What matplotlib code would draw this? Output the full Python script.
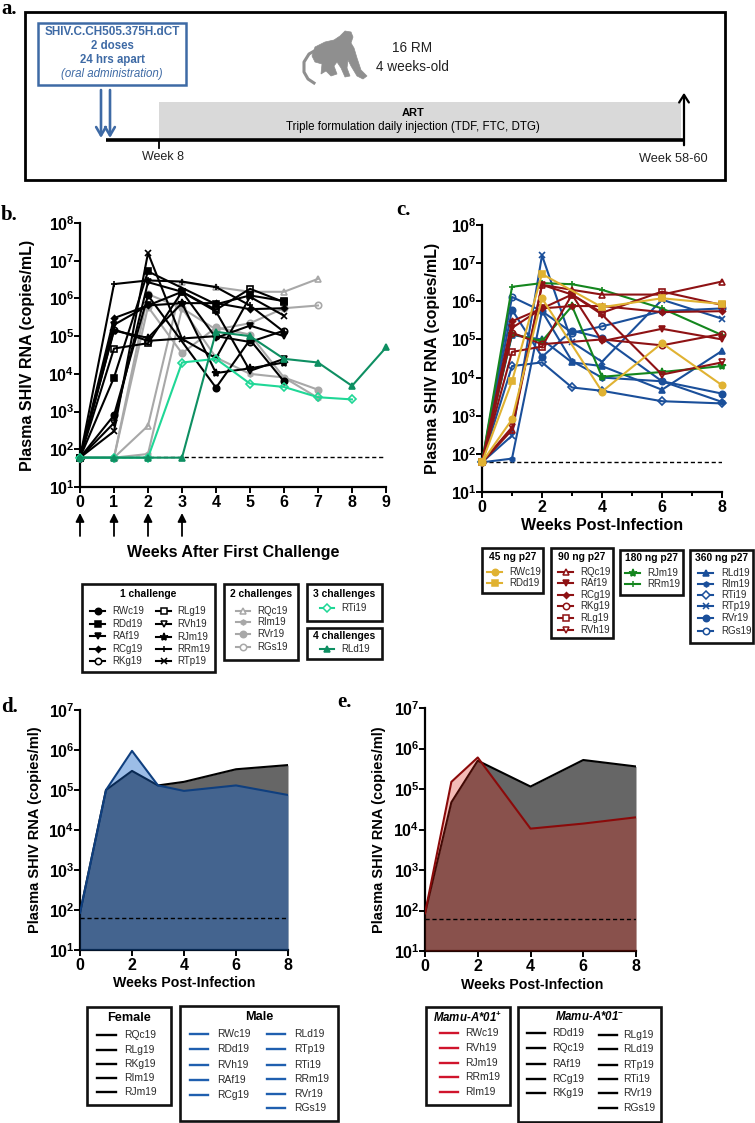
#!/usr/bin/env python3
"""Infant macaque SHIV challenge figure: study design, viral loads per animal and group means."""

import math

import matplotlib
matplotlib.use('Agg')
import matplotlib.pyplot as plt
import matplotlib.patches as patches
from matplotlib.ticker import FixedLocator, FuncFormatter, NullLocator

plt.rcParams['font.family'] = ['Liberation Sans', 'DejaVu Sans']
plt.rcParams['mathtext.fontset'] = 'custom'
plt.rcParams['mathtext.bf'] = 'Liberation Sans:bold'
plt.rcParams['mathtext.rm'] = 'Liberation Sans'

W, H = 755, 1123
LOD = 62

# viral load per animal at weeks 0, 1, 2, 3, 4, 6, 8 post-infection (None = no sample)
weeks_pi = [0, 1, 2, 3, 4, 6, 8]
RWc19 = [60, 8e2, 1.2e6, None, 4.3e3, 8e4, 6.3e3]
RDd19 = [60, 8e3, 5.2e6, None, 7e5, 1.2e6, 8.5e5]
RAf19 = [60, 2e5, 6.5e5, 1.5e6, 9e4, 1.9e5, 1e5]
RCg19 = [60, 3e5, 6.5e5, 7.5e5, 7.5e5, 5.2e5, 5.5e5]
RKg19 = [60, 1.5e5, 7.5e4, None, 1e5, 7e4, 1.4e5]
RLg19 = [60, 4.7e4, 6.5e4, 1.5e6, 5e5, 1.8e6, 8e5]
RVh19 = [60, 5e2, 2.7e6, 1.5e6, 4.5e5, 1.2e4, 2.5e4]
RJm19 = [60, 1.4e5, 9e4, 7.5e5, 1.05e4, 1.4e4, 2e4]
RRm19 = [60, 2.4e6, 3e6, 2.8e6, 2e6, 6.5e5, 1.3e5]
RTp19 = [60, 3e2, 1.6e7, 8.5e4, 2.6e4, 1.1e6, 3.5e5]
RQc19 = [60, 4.2e2, 2.7e6, 2e6, 1.5e6, 1.5e6, 3.3e6]
RIm19 = [60, 7.5e1, 5.5e5, 2.7e4, 1e4, 8e3, 2.3e3]
RVr19 = [60, 6e5, 3.5e4, 1.7e5, 1.1e5, 8e3, 3.8e3]
RGs19 = [60, 1.3e6, 5.5e5, 1.5e5, 2.2e5, 5.5e5, 6.5e5]
RTi19 = [60, 2e4, 2.5e4, 5.5e3, 4.5e3, 2.4e3, 2.1e3]
RLd19 = [60, 1.3e5, 1e5, 2.5e4, 2e4, 4.8e3, 5e4]

# group means, panels d and e
weeks_d = [0, 1, 2, 3, 4, 6, 8]
female_mean = [85, 1e5, 3e5, 1.3e5, 1.6e5, 3.3e5, 4.2e5]
male_mean = [85, 1e5, 9.5e5, 1.3e5, 9.5e4, 1.3e5, 7.5e4]
weeks_e = [0, 1, 2, 4, 6, 8]
mamu_neg_mean = [85, 4.7e4, 5e5, 1.15e5, 5.2e5, 3.6e5]
mamu_pos_mean = [85, 1.5e5, 6e5, 1.05e4, 1.4e4, 2e4]

series = {
    'RWc19': RWc19, 'RDd19': RDd19, 'RAf19': RAf19, 'RCg19': RCg19, 'RKg19': RKg19,
    'RLg19': RLg19, 'RVh19': RVh19, 'RJm19': RJm19, 'RRm19': RRm19, 'RTp19': RTp19,
    'RQc19': RQc19, 'RIm19': RIm19, 'RVr19': RVr19, 'RGs19': RGs19, 'RTi19': RTi19,
    'RLd19': RLd19,
}

# marker, open?
markers = {
    'RWc19': ('o', False), 'RDd19': ('s', False), 'RAf19': ('v', False), 'RCg19': ('D', False),
    'RKg19': ('o', True), 'RLg19': ('s', True), 'RVh19': ('v', True), 'RJm19': ('*', False),
    'RRm19': ('+', False), 'RTp19': ('x', False), 'RQc19': ('^', True), 'RIm19': ('h', False),
    'RVr19': ('o', False), 'RGs19': ('o', True), 'RTi19': ('D', True), 'RLd19': ('^', False),
}
small_marker = {'RCg19': 3, 'RIm19': 3.6, 'RTi19': 3.6}

GREY = '#A8A8A8'
MINT = '#1FD796'
TEAL = '#0E8F62'
YELLOW = '#E0B232'
DRED = '#8E1214'
GREEN = '#14861E'
BLUE = '#1A4F9A'

challenge_1 = ['RWc19', 'RDd19', 'RAf19', 'RCg19', 'RKg19', 'RLg19', 'RVh19', 'RJm19', 'RRm19', 'RTp19']
challenge_2 = ['RQc19', 'RIm19', 'RVr19', 'RGs19']
challenge_3 = ['RTi19']
challenge_4 = ['RLd19']

dose_45 = ['RWc19', 'RDd19']
dose_90 = ['RQc19', 'RAf19', 'RCg19', 'RKg19', 'RLg19', 'RVh19']
dose_180 = ['RJm19', 'RRm19']
dose_360 = ['RLd19', 'RIm19', 'RTi19', 'RTp19', 'RVr19', 'RGs19']

female = ['RQc19', 'RLg19', 'RKg19', 'RIm19', 'RJm19']
male_a = ['RWc19', 'RDd19', 'RVh19', 'RAf19', 'RCg19']
male_b = ['RLd19', 'RTp19', 'RTi19', 'RRm19', 'RVr19', 'RGs19']
mamu_pos = ['RWc19', 'RVh19', 'RJm19', 'RRm19', 'RIm19']
mamu_neg_a = ['RDd19', 'RQc19', 'RAf19', 'RCg19', 'RKg19']
mamu_neg_b = ['RLg19', 'RLd19', 'RTp19', 'RTi19', 'RVr19', 'RGs19']

fig = plt.figure(figsize=(W / 100, H / 100), dpi=100)

# overlay in image pixels, for the schematic and the boxed legends
ov = fig.add_axes([0, 0, 1, 1], zorder=5)
ov.set_xlim(0, W)
ov.set_ylim(H, 0)
ov.axis('off')


def make_axes(x0, x1, y_top, y_bottom, xmax, ymax, xticks, xminor=None, ticksize=11.5):
    ax = fig.add_axes([x0 / W, 1 - y_bottom / H, (x1 - x0) / W, (y_bottom - y_top) / H])
    ax.set_yscale('log')
    ax.set_xlim(0, xmax)
    ax.set_ylim(10, 10 ** ymax)
    ax.spines['top'].set_visible(False)
    ax.spines['right'].set_visible(False)
    ax.spines['left'].set_linewidth(1.6)
    ax.spines['bottom'].set_linewidth(1.6)
    ax.yaxis.set_major_locator(FixedLocator([10 ** n for n in range(1, ymax + 1)]))
    ax.yaxis.set_minor_locator(NullLocator())
    ax.yaxis.set_major_formatter(FuncFormatter(
        lambda v, pos: r'$\mathbf{10^{%d}}$' % round(math.log10(v))))
    ax.set_xticks(xticks)
    if xminor:
        ax.set_xticks(xminor, minor=True)
        ax.tick_params(axis='x', which='minor', length=3, width=1.4)
    ax.tick_params(axis='y', which='major', length=4, width=1.4, pad=0, labelsize=ticksize)
    ax.tick_params(axis='x', which='major', length=4, width=1.4, pad=2, labelsize=ticksize)
    for lab in ax.get_xticklabels():
        lab.set_fontweight('bold')
    ax.patch.set_alpha(0)
    return ax


def draw_animal(ax, x, y, name, color, lw=1.5, zorder=3):
    m, is_open = markers[name]
    ms = small_marker.get(name, 4.6)
    if m == '*':
        ms = 6
    pts = [(a, b) for a, b in zip(x, y) if b is not None]
    ax.plot([p[0] for p in pts], [p[1] for p in pts], color=color, lw=lw, marker=m, ms=ms, mew=1.2,
            mfc='none' if is_open else color, mec=color, clip_on=False, zorder=zorder)


def legend_rows(names, ys, line_x0, line_x1, text_x, color, marker=True, size=7.0, lw=1.5):
    for name, y in zip(names, ys):
        ov.plot([line_x0, line_x1], [y, y], color=color, lw=lw)
        if marker:
            m, is_open = markers[name]
            ms = small_marker.get(name, 4.6)
            if m == '*':
                ms = 6
            ov.plot([(line_x0 + line_x1) / 2], [y], color=color, marker=m, ms=ms, mew=1.1,
                    mfc='white' if is_open else color, mec=color, ls='none')
        ov.text(text_x, y, name, ha='left', va='center', fontsize=size, color='#2a2a2a')


def boxed(x0, y0, x1, y1, title, title_y, italic=False, size=7.4):
    ov.add_patch(patches.Rectangle((x0, y0), x1 - x0, y1 - y0, fc='white', ec='#111111', lw=1.9))
    ov.text((x0 + x1) / 2, title_y, title, ha='center', va='center',
            fontsize=size, fontweight='bold', fontstyle='italic' if italic else 'normal')


def y_title(x, y, size):
    ov.text(x, y, 'Plasma SHIV RNA (copies/%s)' % ('mL' if size > 11 else 'ml'), rotation=90,
            ha='center', va='center', fontsize=size, fontweight='bold')


# === PANEL LETTERS ===
for letter, x, y in [('a.', 1, 9), ('b.', 1, 215), ('c.', 396, 210), ('d.', 1, 707), ('e.', 337, 702)]:
    ov.text(x, y, letter, family='Liberation Serif', fontweight='bold', fontsize=15, ha='left', va='center')

# === PANEL A: STUDY DESIGN ===
ov.add_patch(patches.Rectangle((25, 12), 700, 168, fc='white', ec='black', lw=2.0))
box_blue = '#3E6AA5'
ov.add_patch(patches.Rectangle((38, 23), 148, 62, fc='white', ec=box_blue, lw=1.8))
ov.text(112, 32, 'SHIV.C.CH505.375H.dCT', color=box_blue, fontsize=8.5, fontweight='bold', ha='center', va='center')
ov.text(112, 46, '2 doses', color=box_blue, fontsize=8.3, fontweight='bold', ha='center', va='center')
ov.text(112, 60, '24 hrs apart', color=box_blue, fontsize=8.3, fontweight='bold', ha='center', va='center')
ov.text(112, 74, '(oral administration)', color=box_blue, fontsize=8.3, fontstyle='italic', ha='center', va='center')

ov.add_patch(patches.Rectangle((159, 102), 522, 37, fc='#D9D9D9', ec='none'))
ov.text(413, 113, 'ART', fontsize=8, fontweight='bold', ha='center', va='center')
ov.text(413, 127, 'Triple formulation daily injection (TDF, FTC, DTG)', fontsize=8.3, ha='center', va='center')
ov.plot([106, 684], [140, 140], color='black', lw=2.6, solid_capstyle='butt')
ov.plot([159, 159], [140, 148], color='black', lw=1.3)
ov.text(163, 157, 'Week 8', fontsize=9, ha='center', va='center', color='#222222')
ov.text(673, 159, 'Week 58-60', fontsize=9.2, ha='center', va='center', color='#222222')
ov.annotate('', xy=(684, 90), xytext=(684, 148),
            arrowprops=dict(arrowstyle='->,head_width=0.35,head_length=0.55', color='black', lw=1.6))
for x in [101, 110]:
    ov.annotate('', xy=(x, 138), xytext=(x, 90),
                arrowprops=dict(arrowstyle='->,head_width=0.35,head_length=0.6', color=box_blue, lw=1.9,
                                shrinkA=0, shrinkB=0))
ov.text(412, 48, '16 RM', fontsize=9.8, ha='center', va='center', color='#222222')
ov.text(412, 67, '4 weeks-old', fontsize=9.8, ha='center', va='center', color='#222222')

# monkey silhouette
monkey_grey = '#8F8F8F'
ov.add_patch(patches.Polygon([
    (340, 36), (345, 31), (351, 32), (353, 37), (351, 43), (354, 48), (357, 58), (361, 70), (367, 76), (363, 79),
    (357, 76), (351, 66), (348, 60), (347, 68), (350, 76), (345, 77), (341, 68), (337, 62), (334, 66), (337, 74),
    (331, 76), (326, 71), (321, 74), (322, 64), (315, 62), (312, 56), (315, 47), (325, 42), (334, 40)],
    closed=True, fc=monkey_grey, ec=monkey_grey, lw=0.5))
ov.plot([316, 309, 304, 304, 308, 314], [50, 54, 62, 72, 79, 83], color=monkey_grey, lw=2.2)

# === PANEL B ===
ax_b = make_axes(80, 386, 223, 487, 9, 8, list(range(10)))
for names, color, extra in [(challenge_2, GREY, 1), (challenge_1, 'black', 0), (challenge_3, MINT, 2), (challenge_4, TEAL, 3)]:
    for name in names:
        x = list(range(extra + 7))
        y = [series[name][0]] * extra + series[name]
        draw_animal(ax_b, x, y, name, color)
ax_b.plot([0, 9], [LOD, LOD], color='black', lw=1.0, ls=(0, (3, 2)), zorder=2)
y_title(28, 355, 11.5)
for x in [80, 114, 148, 182]:
    ov.annotate('', xy=(x, 513), xytext=(x, 536),
                arrowprops=dict(arrowstyle='-|>,head_width=0.25,head_length=0.5', color='black', lw=1.3,
                                shrinkA=0, shrinkB=0))
ov.text(233, 552, 'Weeks After First Challenge', fontsize=11.5, fontweight='bold', ha='center', va='center')

boxed(82, 584, 215, 672, '1 challenge', 594)
legend_rows(challenge_1[:5], [611, 624, 636, 649, 661], 90, 105, 112, 'black')
legend_rows(challenge_1[5:], [611, 624, 637, 649, 661], 156, 171, 177, 'black')
boxed(224, 584, 298, 660, '2 challenges', 594)
legend_rows(challenge_2, [611, 622, 634, 647], 236, 250, 257, GREY)
boxed(307, 584, 382, 621, '3 challenges', 594)
legend_rows(challenge_3, [608], 320, 334, 341, MINT)
boxed(307, 628, 382, 659, '4 challenges', 636)
legend_rows(challenge_4, [649], 320, 334, 341, TEAL)

# === PANEL C ===
ax_c = make_axes(482, 722, 225, 492, 8, 8, [0, 2, 4, 6, 8], xminor=[1, 3, 5, 7])
for names, color in [(dose_360, BLUE), (dose_180, GREEN), (dose_90, DRED), (dose_45, YELLOW)]:
    for name in names:
        draw_animal(ax_c, weeks_pi, series[name], name, color)
ax_c.plot([0, 8], [LOD, LOD], color='black', lw=1.0, ls=(0, (3, 2)), zorder=2)
y_title(433, 358, 11.5)
ov.text(602, 526, 'Weeks Post-Infection', fontsize=11.5, fontweight='bold', ha='center', va='center')

boxed(482, 548, 543, 593, '45 ng p27', 557)
legend_rows(dose_45, [572, 583], 487, 502, 509, YELLOW)
boxed(551, 548, 613, 638, '90 ng p27', 557)
legend_rows(dose_90, [572, 583, 595, 606, 618, 630], 558, 573, 580, DRED)
boxed(620, 550, 683, 595, '180 ng p27', 558)
legend_rows(dose_180, [573, 584], 625, 640, 647, GREEN)
boxed(690, 550, 753, 643, '360 ng p27', 558)
legend_rows(dose_360, [573, 584, 595, 606, 618, 631], 698, 713, 721, BLUE)

# === PANEL D ===
ax_d = make_axes(80, 288, 710, 950, 8, 7, [0, 2, 4, 6, 8])
ax_d.fill_between(weeks_d, female_mean, 10, color='#666666', lw=0, zorder=1)
ax_d.plot(weeks_d, female_mean, color='black', lw=1.5, zorder=2)
ax_d.fill_between(weeks_d, male_mean, 10, color='#1562C8', alpha=0.42, lw=0, zorder=3)
ax_d.plot(weeks_d, male_mean, color='#0F3F7F', lw=1.5, zorder=4)
ax_d.plot([0, 8], [LOD, LOD], color='black', lw=1.0, ls=(0, (3, 2)), zorder=5)
y_title(35, 830, 10.5)
ov.text(184, 983, 'Weeks Post-Infection', fontsize=10.2, fontweight='bold', ha='center', va='center')

boxed(87, 1007, 171, 1105, 'Female', 1018, size=9.2)
legend_rows(female, [1035, 1050, 1064, 1078, 1092], 97, 116, 124, 'black', marker=False, size=7.4, lw=1.7)
boxed(180, 1006, 338, 1121, 'Male', 1017, size=9.2)
legend_rows(male_a, [1034, 1049, 1065, 1080, 1095], 190, 208, 217, '#1F5FAF', marker=False, size=7.4, lw=1.7)
legend_rows(male_b, [1034, 1049, 1065, 1079, 1094, 1108], 267, 285, 294, '#1F5FAF', marker=False, size=7.4, lw=1.7)

# === PANEL E ===
ax_e = make_axes(425, 636, 708, 951, 8, 7, [0, 2, 4, 6, 8])
ax_e.fill_between(weeks_e, mamu_neg_mean, 10, color='#666666', lw=0, zorder=1)
ax_e.plot(weeks_e, mamu_neg_mean, color='black', lw=1.5, zorder=2)
ax_e.fill_between(weeks_e, mamu_pos_mean, 10, color='#DD2312', alpha=0.3, lw=0, zorder=3)
ax_e.plot(weeks_e, mamu_pos_mean, color='#8B0A0A', lw=1.5, zorder=4)
ax_e.plot([0, 8], [LOD, LOD], color='black', lw=1.0, ls=(0, (3, 2)), zorder=5)
y_title(379, 830, 10.5)
ov.text(532, 985, 'Weeks Post-Infection', fontsize=10.2, fontweight='bold', ha='center', va='center')

boxed(426, 1007, 510, 1105, r'Mamu-A*01$^{\mathbf{+}}$', 1018, italic=True, size=8.3)
legend_rows(mamu_pos, [1033, 1048, 1063, 1077, 1092], 440, 458, 465, '#D0142C', marker=False, size=7.4, lw=1.7)
boxed(518, 1007, 661, 1122, r'Mamu-A*01$^{\mathbf{-}}$', 1017, italic=True, size=8.3)
legend_rows(mamu_neg_a, [1033, 1048, 1064, 1079, 1093], 527, 545, 552, 'black', marker=False, size=7.4, lw=1.7)
legend_rows(mamu_neg_b, [1035, 1049, 1065, 1079, 1093, 1108], 599, 617, 623, 'black', marker=False, size=7.4, lw=1.7)

fig.savefig('out.png', dpi=100)
